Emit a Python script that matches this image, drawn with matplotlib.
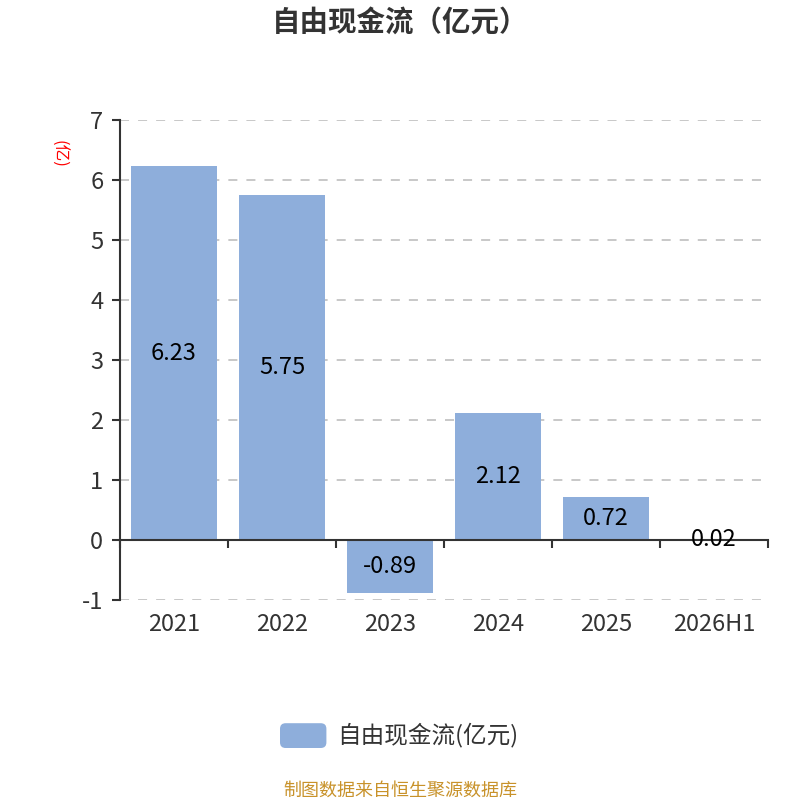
import matplotlib
matplotlib.use('Agg')
import matplotlib.pyplot as plt
from matplotlib.patches import FancyBboxPatch
import matplotlib.transforms as mtransforms

plt.rcParams['font.family'] = ['Noto Sans CJK SC', 'DejaVu Sans']

categories = ['2021', '2022', '2023', '2024', '2025', '2026H1']
values = [6.23, 5.75, -0.89, 2.12, 0.72, 0.02]
value_labels = ['6.23', '5.75', '-0.89', '2.12', '0.72', '0.02']
y_ticks = [-1, 0, 1, 2, 3, 4, 5, 6, 7]

bar_color = '#8eaedb'
text_color = '#333333'

fig = plt.figure(figsize=(8, 8), dpi=100)
ax = fig.add_axes([0.15, 0.25, 0.81, 0.60])
ax.set_axisbelow(True)

x = list(range(len(categories)))
ax.bar(x, values, width=0.8, color=bar_color, zorder=2)

ax.set_xlim(-0.5, len(categories) - 0.5)
ax.set_ylim(-1, 7)

# y axis
ax.set_yticks(y_ticks)
ax.set_yticklabels([str(t) for t in y_ticks])
ax.tick_params(axis='y', direction='out', length=6, width=1.5, color='#333333',
               labelsize=17, labelcolor=text_color, pad=6)
ax.yaxis.grid(True, linestyle=(0, (5, 5)), color='#c4c4c4', linewidth=1.3)
for s in ['top', 'right']:
    ax.spines[s].set_visible(False)
ax.spines['left'].set_color('#333333')
ax.spines['left'].set_linewidth(1.5)

# x axis drawn at zero, ticks at category boundaries
ax.spines['bottom'].set_position(('data', 0))
ax.spines['bottom'].set_color('#333333')
ax.spines['bottom'].set_linewidth(1.5)
ax.spines['bottom'].set_zorder(3)
ax.set_xticks([i - 0.5 for i in range(len(categories) + 1)])
ax.set_xticklabels([''] * (len(categories) + 1))
ax.tick_params(axis='x', direction='out', length=6, width=1.5, color='#333333')

trans = mtransforms.blended_transform_factory(ax.transData, ax.transAxes)
for i, c in enumerate(categories):
    ax.text(i, -0.052, c, transform=trans, ha='center', va='center',
            fontsize=17, color=text_color)

# value labels at bar centres
for i, (v, lab) in enumerate(zip(values, value_labels)):
    ax.text(i, v / 2, lab, ha='center', va='center', fontsize=17,
            color='black', zorder=4)

# unit label
fig.text(0.073, 0.807, '(亿)', rotation=-90, ha='center', va='center',
         fontsize=12, color='red')

# title
fig.text(0.5, 0.97, '自由现金流（亿元）', ha='center', va='center',
         fontsize=20.5, fontweight='bold', color=text_color)

# legend
patch = FancyBboxPatch((0.35, 0.065), 0.058, 0.031,
                       boxstyle='round,pad=0,rounding_size=0.007',
                       transform=fig.transFigure, facecolor=bar_color,
                       edgecolor='none')
fig.patches.append(patch)
fig.text(0.422, 0.081, '自由现金流(亿元)', ha='left', va='center',
         fontsize=17, color=text_color)

# source
fig.text(0.5, 0.012, '制图数据来自恒生聚源数据库', ha='center', va='center',
         fontsize=13, color='#c8922a')

plt.savefig('out.png', dpi=100)
plt.close()
